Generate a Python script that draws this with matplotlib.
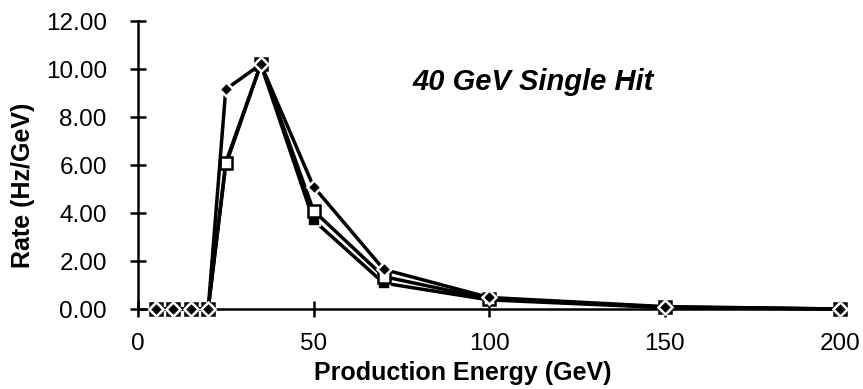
import numpy as np
import matplotlib.pyplot as plt

plt.rcParams['font.family'] = ['Liberation Sans', 'DejaVu Sans']

# production energy (GeV)
energy = [5, 10, 15, 20, 25, 35, 50, 70, 100, 150, 200]
# three rate series (Hz/GeV)
rate_filled_sq = [0.0, 0.0, 0.0, 0.0, 6.0, 10.2, 3.7, 1.08, 0.38, 0.06, 0.0]
rate_open_sq = [0.0, 0.0, 0.0, 0.0, 6.1, 10.2, 4.1, 1.35, 0.42, 0.08, 0.0]
rate_diamond = [0.0, 0.0, 0.0, 0.0, 9.15, 10.2, 5.1, 1.65, 0.48, 0.1, 0.0]

yticks = [0, 2, 4, 6, 8, 10, 12]
xticks = [0, 50, 100, 150, 200]

fig = plt.figure(figsize=(8.63, 3.89), dpi=100)
ax = fig.add_axes([138 / 863, 80 / 389, 702 / 863, 288 / 389])

ax.plot(energy, rate_filled_sq, color='black', lw=2.5, marker='s', ms=8,
        mfc='black', mec='white', mew=1.2, clip_on=False, zorder=3)
ax.plot(energy, rate_open_sq, color='black', lw=2.5, marker='s', ms=8.5,
        mfc='white', mec='black', mew=1.8, clip_on=False, zorder=4)
ax.plot(energy, rate_diamond, color='black', lw=2.5, marker='D', ms=7.5,
        mfc='black', mec='white', mew=1.8, clip_on=False, zorder=5)

ax.set_xlim(0, 200)
ax.set_ylim(0, 12)
ax.set_xticks(xticks)
ax.set_yticks(yticks)
ax.set_yticklabels([f"{v:.2f}" for v in yticks])

for side in ['top', 'right']:
    ax.spines[side].set_visible(False)
for side in ['left', 'bottom']:
    ax.spines[side].set_linewidth(1.8)
ax.tick_params(direction='inout', length=11, width=1.8, labelsize=17.5)
ax.tick_params(axis='y', pad=17)
ax.tick_params(axis='x', pad=12)

ax.set_xlabel('Production Energy (GeV)', fontsize=18, fontweight='bold')
ax.xaxis.set_label_coords((463 - 138) / 702, (309 - 361) / 288)
ax.set_ylabel('Rate (Hz/GeV)', fontsize=18, fontweight='bold', va='center')
ax.yaxis.set_label_coords((23 - 138) / 702, (309 - 185) / 288)

ax.text(533 / 863, 1 - 82 / 389, '40 GeV Single Hit', transform=fig.transFigure,
        fontsize=21, fontweight='bold', fontstyle='italic', ha='center', va='center')

fig.savefig('out.png', dpi=100)
